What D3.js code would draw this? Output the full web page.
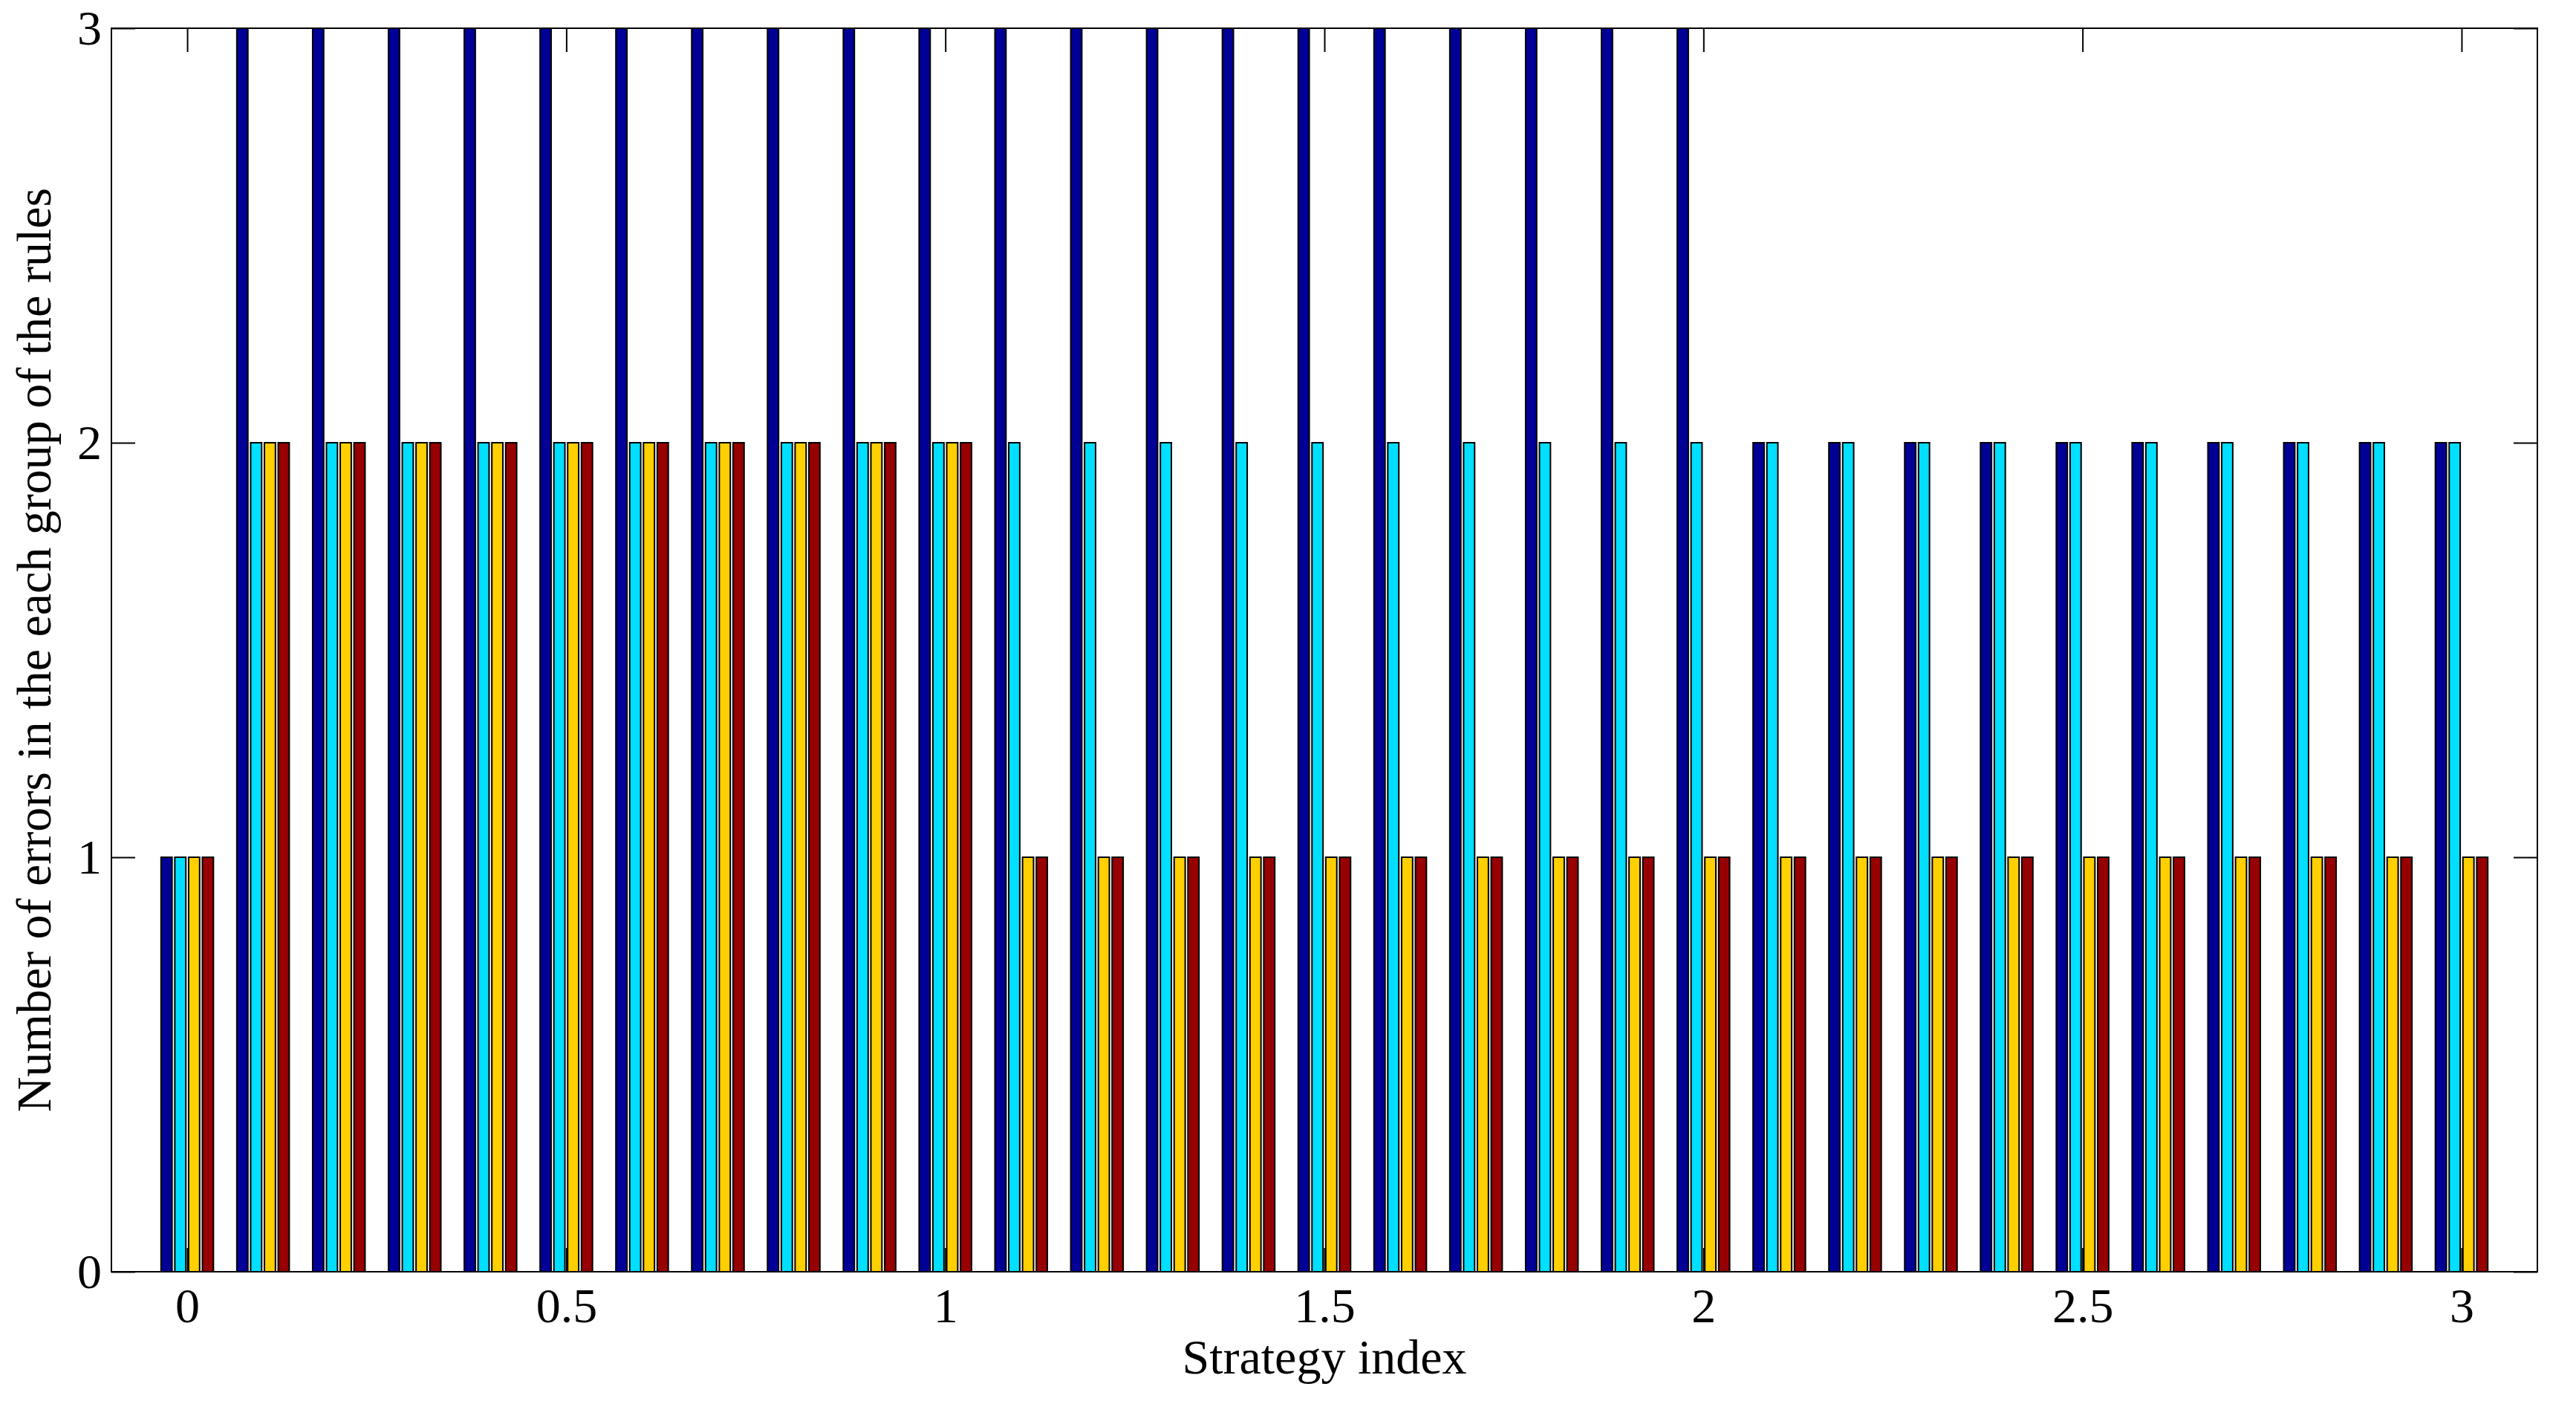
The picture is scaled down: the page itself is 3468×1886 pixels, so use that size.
<!DOCTYPE html>
<html>
<head>
<meta charset="utf-8">
<script src="https://cdn.jsdelivr.net/npm/d3@7"></script>
<style>
  html, body { margin: 0; padding: 0; background: #fff; }
  svg { display: block; }
  text { font-family: "Liberation Serif", "Times New Roman", serif; fill: #000; }
</style>
</head>
<body>
<svg id="chart" width="3468" height="1886"></svg>
<script>
// ---- data ----
const categories = [0, 0.1, 0.2, 0.3, 0.4, 0.5, 0.6, 0.7, 0.8, 0.9, 1.0,
                    1.1, 1.2, 1.3, 1.4, 1.5, 1.6, 1.7, 1.8, 1.9, 2.0,
                    2.1, 2.2, 2.3, 2.4, 2.5, 2.6, 2.7, 2.8, 2.9, 3.0];
const series1 = [1, 3, 3, 3, 3, 3, 3, 3, 3, 3, 3,
                 3, 3, 3, 3, 3, 3, 3, 3, 3, 3,
                 2, 2, 2, 2, 2, 2, 2, 2, 2, 2];
const series2 = [1, 2, 2, 2, 2, 2, 2, 2, 2, 2, 2,
                 2, 2, 2, 2, 2, 2, 2, 2, 2, 2,
                 2, 2, 2, 2, 2, 2, 2, 2, 2, 2];
const series3 = [1, 2, 2, 2, 2, 2, 2, 2, 2, 2, 2,
                 1, 1, 1, 1, 1, 1, 1, 1, 1, 1,
                 1, 1, 1, 1, 1, 1, 1, 1, 1, 1];
const series4 = [1, 2, 2, 2, 2, 2, 2, 2, 2, 2, 2,
                 1, 1, 1, 1, 1, 1, 1, 1, 1, 1,
                 1, 1, 1, 1, 1, 1, 1, 1, 1, 1];
const seriesColors = ["#000096", "#00DFFF", "#FFCF00", "#960000"];
const xTickValues = [0, 0.5, 1, 1.5, 2, 2.5, 3];
const xTickLabels = ["0", "0.5", "1", "1.5", "2", "2.5", "3"];
const yTickValues = [0, 1, 2, 3];
const yTickLabels = ["0", "1", "2", "3"];
const xLabel = "Strategy index";
const yLabel = "Number of errors in the each group of the rules";

// ---- layout ----
const L = 150, R = 3416, T = 38, B = 1712;
const FS = 66;
const svg = d3.select("#chart");

const x = d3.scaleLinear().domain([-0.1, 3.1]).range([L, R]);
const y = d3.scaleLinear().domain([0, 3]).range([B, T]);

const allSeries = [series1, series2, series3, series4];
const nS = allSeries.length;
const catStep = 0.1;
const groupWidth = Math.min(0.8, nS / (nS + 1.5)) * catStep;
const slotPx = x(groupWidth / nS) - x(0);
const inner = d3.scaleBand()
  .domain(d3.range(nS))
  .range([-nS / 2 * slotPx, nS / 2 * slotPx])
  .paddingInner(0.2)
  .paddingOuter(0.1);

// ticks (drawn beneath bars)
const tickSize = -32;
const gx = svg.append("g").attr("transform", `translate(0,${B})`)
  .call(d3.axisBottom(x).tickValues(xTickValues)
    .tickFormat((d, i) => xTickLabels[i]).tickSize(tickSize).tickSizeOuter(0).tickPadding(21));
const gxt = svg.append("g").attr("transform", `translate(0,${T})`)
  .call(d3.axisTop(x).tickValues(xTickValues).tickFormat("").tickSize(tickSize).tickSizeOuter(0));
const gy = svg.append("g").attr("transform", `translate(${L},0)`)
  .call(d3.axisLeft(y).tickValues(yTickValues)
    .tickFormat((d, i) => yTickLabels[i]).tickSize(tickSize).tickSizeOuter(0).tickPadding(13));
const gyr = svg.append("g").attr("transform", `translate(${R},0)`)
  .call(d3.axisRight(y).tickValues(yTickValues).tickFormat("").tickSize(tickSize).tickSizeOuter(0));

[gx, gxt, gy, gyr].forEach(g => {
  g.select(".domain").remove();
  g.selectAll(".tick line").attr("stroke", "#000").attr("stroke-width", 2);
  g.selectAll(".tick text").style("font-family", '"Liberation Serif", serif').attr("font-size", FS).attr("fill", "#000");
});

// bars
svg.append("clipPath").attr("id", "plotclip")
  .append("rect").attr("x", L).attr("y", T - 1).attr("width", R - L).attr("height", B - T + 1);

const barsG = svg.append("g").attr("clip-path", "url(#plotclip)");
allSeries.forEach((vals, si) => {
  barsG.append("g").selectAll("rect")
    .data(categories.map((c, i) => ({ c, v: vals[i] })))
    .join("rect")
    .attr("x", d => x(d.c) + inner(si))
    .attr("width", inner.bandwidth())
    .attr("y", d => y(d.v))
    .attr("height", d => y(0) - y(d.v))
    .attr("fill", seriesColors[si])
    .attr("stroke", "#000")
    .attr("stroke-width", 2);
});

// frame
svg.append("rect")
  .attr("x", L).attr("y", T).attr("width", R - L).attr("height", B - T)
  .attr("fill", "none").attr("stroke", "#000").attr("stroke-width", 2);

// axis labels
svg.append("text")
  .attr("x", (L + R) / 2).attr("y", 1849)
  .attr("text-anchor", "middle").attr("font-size", FS)
  .text(xLabel);

svg.append("text")
  .attr("transform", `translate(68,${(T + B) / 2}) rotate(-90)`)
  .attr("text-anchor", "middle").attr("font-size", FS)
  .text(yLabel);
</script>
</body>
</html>
